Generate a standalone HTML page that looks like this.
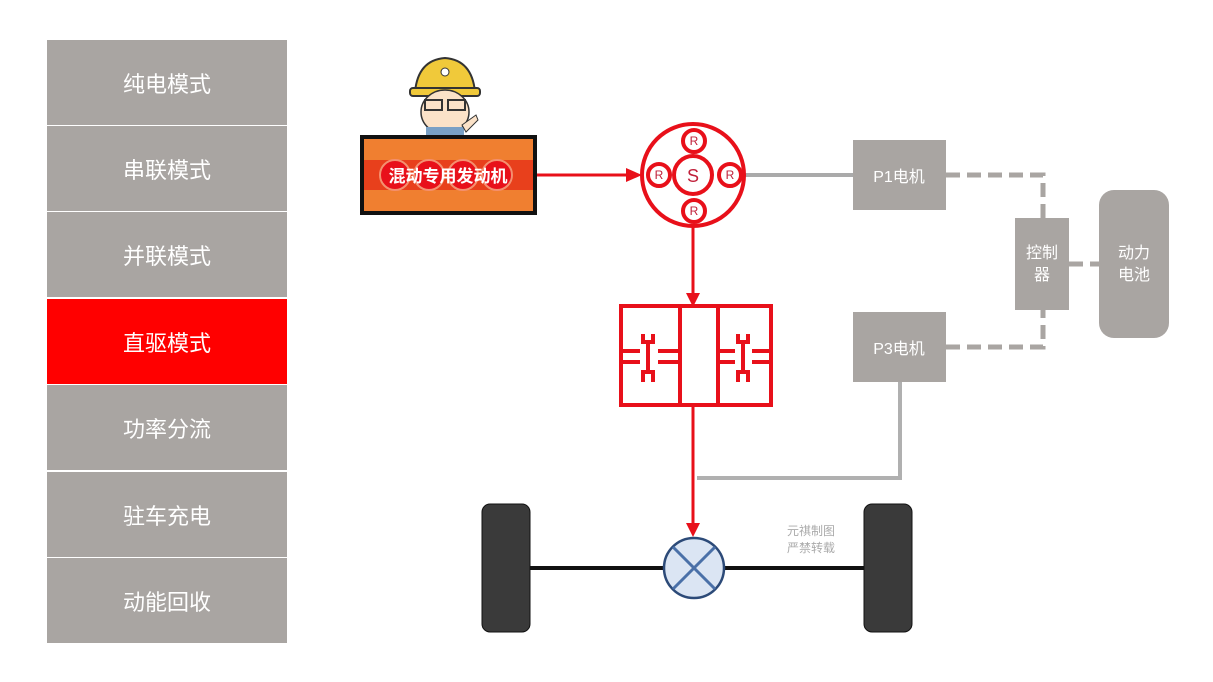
<!DOCTYPE html>
<html><head><meta charset="utf-8"><style>
body{margin:0;background:#fff;width:1213px;height:682px;overflow:hidden;position:relative;font-family:"Liberation Sans","Noto Sans CJK SC",sans-serif}
.b{position:absolute;left:47px;width:240px;height:85px;background:#a9a5a2;color:#fff;font-size:22px;display:flex;align-items:center;justify-content:center}
</style></head><body>
<div class="b" style="top:40px">纯电模式</div>
<div class="b" style="top:126px">串联模式</div>
<div class="b" style="top:212px">并联模式</div>
<div class="b" style="top:299px;background:#ff0000">直驱模式</div>
<div class="b" style="top:385px">功率分流</div>
<div class="b" style="top:472px">驻车充电</div>
<div class="b" style="top:558px">动能回收</div>
<svg width="1213" height="682" style="position:absolute;left:0;top:0" font-family="Liberation Sans,Noto Sans CJK SC,sans-serif">
<path d="M415 92 Q418 60 445 58 Q472 60 475 92 Z" fill="#f0c93a" stroke="#333" stroke-width="2"/>
<rect x="410" y="88" width="70" height="8" rx="3" fill="#f0c93a" stroke="#333" stroke-width="2"/>
<circle cx="445" cy="72" r="4" fill="#fff" stroke="#333"/>
<ellipse cx="445" cy="112" rx="24" ry="22" fill="#fbe2c8" stroke="#333" stroke-width="1.5"/>
<rect x="425" y="100" width="17" height="10" fill="none" stroke="#333" stroke-width="2"/>
<rect x="448" y="100" width="17" height="10" fill="none" stroke="#333" stroke-width="2"/>
<rect x="426" y="127" width="38" height="9" fill="#7aa0c5"/>
<path d="M462 125 L476 115 L478 120 L466 132Z" fill="#fbe2c8" stroke="#333"/>
<rect x="362" y="137" width="173" height="76" fill="#f07f30" stroke="#111" stroke-width="4"/>
<rect x="364" y="160" width="169" height="30" fill="#e8401c"/>
<g fill="#e8101a" stroke="#f49070" stroke-width="2"><circle cx="395" cy="175" r="15"/><circle cx="429" cy="175" r="15"/><circle cx="463" cy="175" r="15"/><circle cx="497" cy="175" r="15"/></g>
<text x="448" y="182" fill="#fff" font-size="17" text-anchor="middle" font-weight="bold">混动专用发动机</text>
<line x1="537" y1="175" x2="630" y2="175" stroke="#e8101a" stroke-width="3"/>
<path d="M626 168 L642 175 L626 182Z" fill="#e8101a"/>
<line x1="745" y1="175" x2="853" y2="175" stroke="#aaa" stroke-width="4"/>
<polyline points="900,382 900,478 697,478" fill="none" stroke="#b0b0b0" stroke-width="4"/>
<g stroke="#e8101a" stroke-width="4" fill="#fff">
<circle cx="693" cy="175" r="51"/>
<circle cx="693" cy="175" r="19"/>
<circle cx="694" cy="141" r="11"/><circle cx="694" cy="211" r="11"/>
<circle cx="659" cy="175" r="11"/><circle cx="730" cy="175" r="11"/>
</g>
<g fill="#c0203a" font-size="12" text-anchor="middle"><text x="694" y="145">R</text><text x="694" y="215">R</text><text x="659" y="179">R</text><text x="730" y="179">R</text><text x="693" y="182" font-size="18">S</text></g>
<line x1="693" y1="226" x2="693" y2="296" stroke="#e8101a" stroke-width="3"/>
<path d="M686 293 L693 307 L700 293Z" fill="#e8101a"/>
<g stroke="#e8101a" stroke-width="4" fill="none">
<rect x="621" y="306" width="150" height="99"/>
<line x1="680" y1="306" x2="680" y2="405"/><line x1="718" y1="306" x2="718" y2="405"/>
<polyline points="621,351 640,351"/><polyline points="621,362 640,362"/>
<polyline points="658,351 680,351"/><polyline points="658,362 680,362"/>
<polyline points="718,351 735,351"/><polyline points="718,362 735,362"/>
<polyline points="752,351 771,351"/><polyline points="752,362 771,362"/>
<polyline points="643,334 643,342 653,342 653,334"/><line x1="648" y1="342" x2="648" y2="372"/><polyline points="643,382 643,372 653,372 653,382"/>
<polyline points="738,334 738,342 748,342 748,334"/><line x1="743" y1="342" x2="743" y2="372"/><polyline points="738,382 738,372 748,372 748,382"/>
</g>
<line x1="693" y1="405" x2="693" y2="526" stroke="#e8101a" stroke-width="3"/>
<path d="M686 523 L693 537 L700 523Z" fill="#e8101a"/>
<line x1="525" y1="568" x2="870" y2="568" stroke="#111" stroke-width="4"/>
<rect x="482" y="504" width="48" height="128" rx="8" fill="#3a3a3a" stroke="#111"/>
<rect x="864" y="504" width="48" height="128" rx="8" fill="#3a3a3a" stroke="#111"/>
<circle cx="694" cy="568" r="30" fill="#dbe5f3" stroke="#2c4a78" stroke-width="2.5"/>
<line x1="673" y1="547" x2="715" y2="589" stroke="#4a70a8" stroke-width="3"/><line x1="715" y1="547" x2="673" y2="589" stroke="#4a70a8" stroke-width="3"/>
<text x="787" y="535" fill="#aaa" font-size="12">元祺制图</text><text x="787" y="552" fill="#aaa" font-size="12">严禁转载</text>
<g stroke="#a9a5a2" stroke-width="5" fill="none" stroke-dasharray="14,7">
<polyline points="946,175 1043,175 1043,218"/>
<polyline points="946,347 1043,347 1043,310"/>
<line x1="1069" y1="264" x2="1099" y2="264"/>
</g>
<rect x="853" y="140" width="93" height="70" fill="#a9a5a2"/>
<rect x="853" y="312" width="93" height="70" fill="#a9a5a2"/>
<rect x="1015" y="218" width="54" height="92" fill="#a9a5a2"/>
<rect x="1099" y="190" width="70" height="148" rx="15" fill="#a9a5a2"/>
<g fill="#fff" font-size="16" text-anchor="middle">
<text x="899" y="182">P1电机</text><text x="899" y="354">P3电机</text>
<text x="1042" y="258">控制</text><text x="1042" y="280">器</text>
<text x="1134" y="258">动力</text><text x="1134" y="280">电池</text>
</g>
</svg>
</body></html>
